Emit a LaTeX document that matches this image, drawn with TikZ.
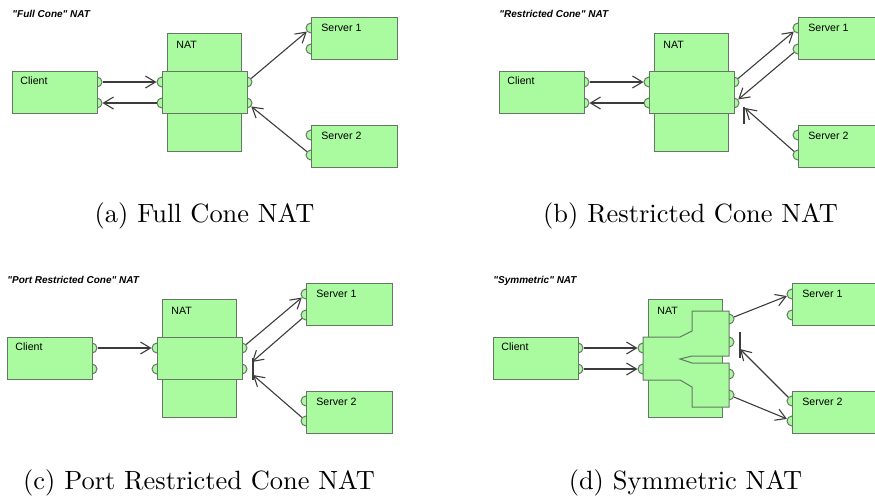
\documentclass[tikz,border=0pt]{standalone}
\usepackage{fontspec}
\newfontfamily\diafont{Liberation Sans}
\newfontfamily\capfont{lmroman10-regular.otf}
\usetikzlibrary{arrows.meta}

\definecolor{boxfill}{RGB}{170,250,160}
\definecolor{boxline}{RGB}{100,120,100}
\definecolor{wiregray}{RGB}{60,60,60}

\tikzset{
  box/.style={rectangle, draw=boxline, fill=boxfill, line width=0.5pt, inner sep=0pt},
  boxpath/.style={draw=boxline, fill=boxfill, line width=0.5pt},
  boxsize/.style 2 args={minimum width=#1*0.5pt, minimum height=#2*0.5pt},
  port/.style={circle, draw=boxline, fill=boxfill, line width=0.5pt, inner sep=0pt, minimum size=5pt},
  lbl/.style={font=\diafont\fontsize{5.3}{6}\selectfont, anchor=base west, inner sep=0pt},
  ttl/.style={font=\diafont\bfseries\itshape\fontsize{5}{6}\selectfont, anchor=base west, inner sep=0pt},
  subcaption/.style={font=\capfont\fontsize{13.2}{15}\selectfont, anchor=base, inner sep=0pt},
  wire/.style={draw=wiregray, line width=0.55pt, -{Straight Barb[length=5pt,width=6pt]}},
  blockbar/.style={draw=wiregray, line width=0.6pt},
}

% Client, outer NAT box and the two servers of one panel (local pixel coordinates)
\newcommand\natframe[1]{%
  \node[ttl] (title) at (12,17) {#1};
  \node[port] (cp1) at (97,82) {};
  \node[port] (cp2) at (97,103) {};
  \node[box, boxsize={85}{42}] (client) at (54.5,92) {};
  \node[lbl] (clientlbl) at (20,84) {Client};
  \node[port] (s1p1) at (311,28) {};
  \node[port] (s1p2) at (311,49) {};
  \node[box, boxsize={86}{42}] (server1) at (354,38) {};
  \node[lbl] (server1lbl) at (321,31.5) {Server 1};
  \node[port] (s2p1) at (311,135) {};
  \node[port] (s2p2) at (311,155) {};
  \node[box, boxsize={86}{42}] (server2) at (354,146) {};
  \node[lbl] (server2lbl) at (321,139.5) {Server 2};
  \node[box, boxsize={74}{118}] (nat) at (204,92) {};
  \node[lbl] (natlbl) at (176,48) {NAT};
}

% Plain NAT mapping block with two ports on each side
\newcommand\natmiddle{%
  \node[port] (nl1) at (162,82) {};
  \node[port] (nl2) at (162,103) {};
  \node[port] (nr1) at (247,82) {};
  \node[port] (nr2) at (247,103) {};
  \node[box, boxsize={85}{42}] (natmid) at (204.5,92.5) {};
}

\begin{document}
\begin{tikzpicture}[x=0.5pt, y=-0.5pt]
\clip (0,0) rectangle (875,499);

% (a) Full cone
\begin{scope}[name prefix=a-]
  \natframe{"Full Cone" NAT}
  \natmiddle
  \draw[wire] (cp1) -- (nl1);
  \draw[wire] (nl2) -- (cp2);
  \draw[wire] (nr1) -- (s1p1);
  \draw[wire] (s2p2) -- (nr2);
\end{scope}

% (b) Restricted cone
\begin{scope}[shift={(487,0)}, name prefix=b-]
  \natframe{"Restricted Cone" NAT}
  \natmiddle
  \coordinate (blk) at (258,108);
  \coordinate (bartop) at (257,107);
  \coordinate (barbot) at (257,124);
  \draw[wire] (cp1) -- (nl1);
  \draw[wire] (nl2) -- (cp2);
  \draw[wire] (nr1) -- (s1p1);
  \draw[wire] (s1p2) -- (nr2);
  \draw[wire] (s2p2) -- (blk);
  \draw[blockbar] (bartop) -- (barbot);
\end{scope}

% (c) Port restricted cone
\begin{scope}[shift={(-5,266)}, name prefix=c-]
  \natframe{"Port Restricted Cone" NAT}
  \natmiddle
  \coordinate (blk1) at (257,96);
  \coordinate (blk2) at (258,109);
  \coordinate (bartop) at (258,92);
  \coordinate (barbot) at (258,114);
  \draw[wire] (cp1) -- (nl1);
  \draw[wire] (nr1) -- (s1p1);
  \draw[wire] (s1p2) -- (blk1);
  \draw[wire] (s2p2) -- (blk2);
  \draw[blockbar] (bartop) -- (barbot);
\end{scope}

% (d) Symmetric
\begin{scope}[shift={(481,266)}, name prefix=d-]
  \natframe{"Symmetric" NAT}
  \node[port] (nl1) at (162,82) {};
  \node[port] (nl2) at (162,103) {};
  \node[port] (nr1) at (248,53) {};
  \node[port] (nr2) at (248,76) {};
  \node[port] (nr3) at (248,108) {};
  \node[port] (nr4) at (248,129) {};
  \draw[boxpath] (162,71) -- (199,71) -- (211,65) -- (211,45) -- (248,45)
    -- (248,90) -- (211,90) -- (199,93) -- (211,97) -- (248,97)
    -- (248,141) -- (211,141) -- (211,121) -- (199,114) -- (162,114) -- cycle;
  \coordinate (blk) at (259,83);
  \coordinate (bartop) at (259,66);
  \coordinate (barbot) at (259,92);
  \draw[wire] (cp1) -- (nl1);
  \draw[wire] (cp2) -- (nl2);
  \draw[wire] (nr1) -- (s1p1);
  \draw[wire] (nr4) -- (s2p2);
  \draw[wire] (s2p1) -- (blk);
  \draw[blockbar] (bartop) -- (barbot);
\end{scope}

% Sub-figure captions
\node[subcaption] (capa) at (204.5,222) {(a)\hspace{4.5pt}Full Cone NAT};
\node[subcaption] (capb) at (690.5,222) {(b)\hspace{4.5pt}Restricted Cone NAT};
\node[subcaption] (capc) at (199,489) {(c)\hspace{4.5pt}Port Restricted Cone NAT};
\node[subcaption] (capd) at (685.5,489) {(d)\hspace{4.5pt}Symmetric NAT};
\end{tikzpicture}
\end{document}
